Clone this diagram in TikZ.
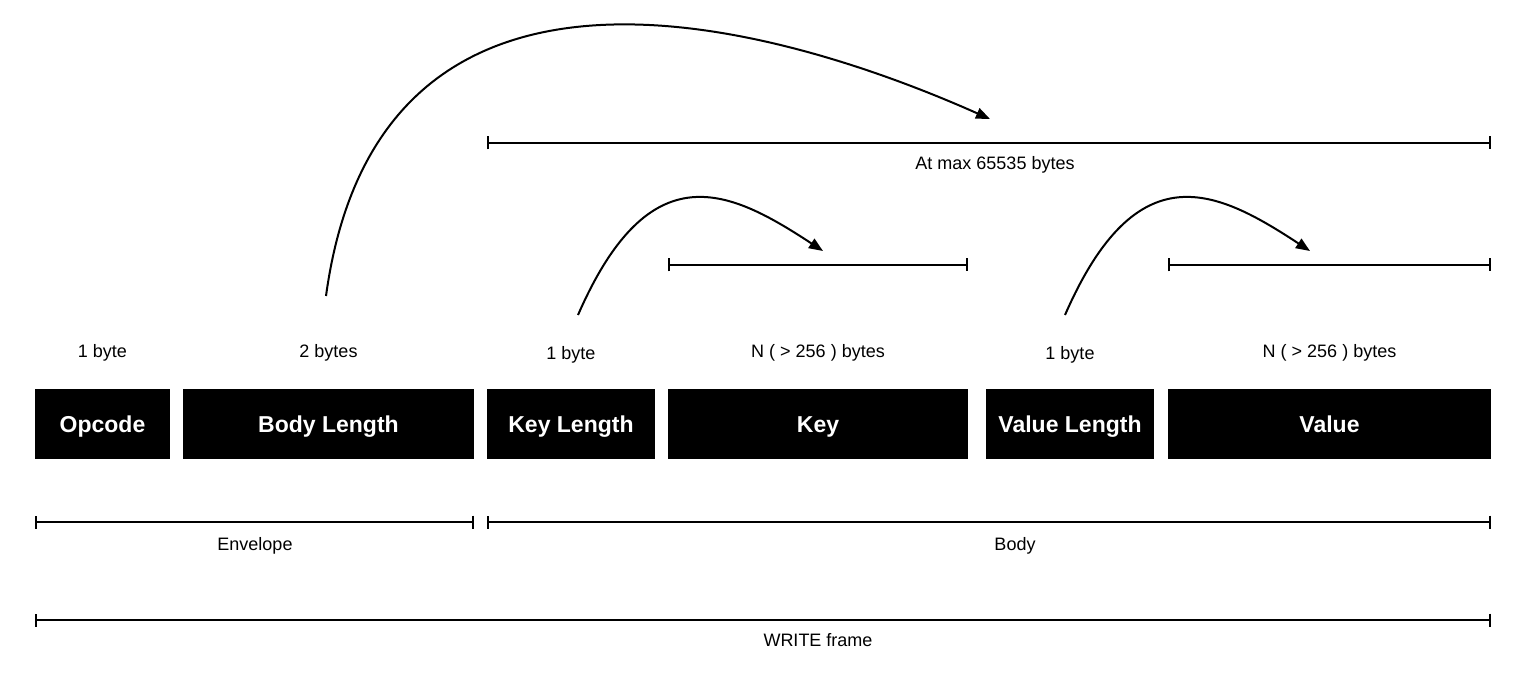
\documentclass[tikz,border=0pt]{standalone}
\usepackage{fontspec}
\setmainfont{Liberation Sans}
\usetikzlibrary{arrows.meta}

% fields: left/right/name/text/y of size label/size label
\def\fields{35/170/opc/Opcode/351/1 byte, 183/474/blen/Body Length/351/2 bytes, 487/655/klen/Key Length/353/1 byte, 668/968/key/Key/351/N ( > 256 ) bytes, 986/1154/vlen/Value Length/353/1 byte, 1168/1491/val/Value/351/N ( > 256 ) bytes}
% spans: left/right/y/name
\def\spans{35/474/522/env, 487/1491/522/body, 35/1491/620/frame, 487/1491/143/max, 668/968/265/keyspan, 1168/1491/265/valspan}
\tikzstyle{field} = [fill=black, text=white, font=\fontsize{23}{27}\selectfont\bfseries, minimum height=70pt, inner sep=0pt, text height=18pt, text depth=2pt]
\tikzstyle{size} = [font=\fontsize{18}{21}\selectfont, inner sep=0pt, text height=13pt, text depth=0pt]
\tikzstyle{span} = [draw, line width=2pt, {Bar[width=13pt]}-{Bar[width=13pt]}]
\tikzstyle{jump} = [draw, line width=2pt, -{Triangle[length=14pt,width=11pt]}]

\begin{document}
\begin{tikzpicture}[x=1pt, y=-1pt]
  \useasboundingbox (0,0) rectangle (1531,676);

  % First the fields and their sizes
  \foreach \lo/\hi/\name/\txt/\sy/\stxt in \fields {
    \node[field, minimum width={(\hi-\lo)*1pt}] (\name) at ({(\lo+\hi)/2}, 424) {\txt};
    \node[size] (\name-size) at ({(\lo+\hi)/2}, \sy) {\stxt};
  }

  % Spans with their labels
  \foreach \lo/\hi/\y/\name in \spans {
    \coordinate (\name-l) at (\lo, \y);
    \coordinate (\name-r) at (\hi, \y);
    \path[span] (\name-l) -- (\name-r);
  }
  \node[size] (env-text) at (255, 543.5) {Envelope};
  \node[size] (body-text) at (1015, 543.5) {Body};
  \node[size] (frame-text) at (818, 640) {WRITE frame};
  \node[size] (max-text) at (995, 163.5) {At max 65535 bytes};

  % Length fields point at what they measure
  \coordinate (blen-from) at (326, 296);
  \coordinate (max-to) at (990, 119);
  \coordinate (klen-from) at (578, 315);
  \coordinate (key-to) at (823, 251);
  \coordinate (vlen-from) at (1065, 315);
  \coordinate (val-to) at (1310, 251);

  \path[jump] (blen-from) .. controls (380, -100) and (790, 30) .. (max-to);
  \path[jump] (klen-from) .. controls (650, 150) and (730, 190) .. (key-to);
  \path[jump] (vlen-from) .. controls (1137, 150) and (1217, 190) .. (val-to);
\end{tikzpicture}
\end{document}
